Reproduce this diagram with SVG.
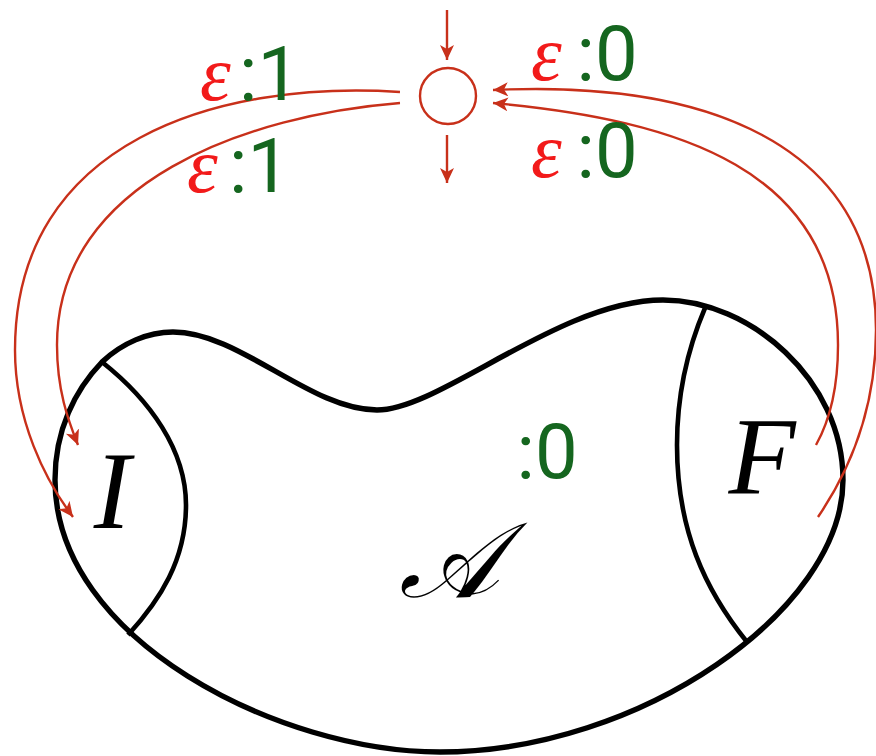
<svg xmlns="http://www.w3.org/2000/svg" width="876" height="756" viewBox="0 0 876 756">
<defs>
<marker id="ah" markerUnits="userSpaceOnUse" markerWidth="18" markerHeight="16" refX="15" refY="7" orient="auto">
<path d="M0,0 L15,7 L0,14 L4,7 Z" fill="#c8301a"/>
</marker>
<style>
.blk{fill:none;stroke:#000;stroke-width:5.4;stroke-linejoin:round}
.thin{fill:none;stroke:#000;stroke-width:4.6}
.edge{fill:none;stroke:#c8301a;stroke-width:2.4}
.eps{font-family:"Liberation Serif","DejaVu Serif",serif;font-style:italic;font-size:78px;fill:#f21a1a}
.num{font-family:Roboto,"Liberation Sans",sans-serif;font-weight:400;font-size:76px;fill:#15661f}
.math{font-family:"Liberation Serif","DejaVu Serif",serif;font-style:italic;fill:#000}
</style>
</defs>
<rect width="876" height="756" fill="#fff"/>
<g id="automaton">
<path class="blk" d="M102,362 C122,343 148,332 173,332 C240,332 310,410 377,410 C440,410 560,300 663,300 C750,300 843,380 843,480 C843,610 640,752 440,752 C280,752 55,640 55,480 C55,430 75,390 102,362 Z"/>
</g>
<g id="I">
<path class="thin" d="M102,362 C150,400 186,450 186,505 C186,560 160,600 128,635"/>
<text class="math" x="112" y="528" font-size="110" text-anchor="middle">I</text>
</g>
<g id="F">
<path class="thin" d="M705,308 C685,355 677,400 677,445 C677,530 705,590 747,642"/>
<text class="math" x="762" y="493" font-size="110" text-anchor="middle">F</text>
</g>
<g id="A">
<text class="math" x="449" y="597" font-size="106" text-anchor="middle">𝒜</text>
<text class="num" x="516.5" y="478">:0</text>
</g>
<g id="state">
<circle cx="448" cy="96" r="28" fill="none" stroke="#c8301a" stroke-width="2.4"/>
</g>
<g id="connectors">
<path class="edge" d="M447,10 L447,60" marker-end="url(#ah)"/>
<path class="edge" d="M447,135 L447,183" marker-end="url(#ah)"/>
<path class="edge" d="M400,92 C220,80 15,140 15,350 C15,420 45,480 73,517" marker-end="url(#ah)"/>
<path class="edge" d="M400,103 C250,115 57,180 57,345 C57,390 68,420 78,445" marker-end="url(#ah)"/>
<path class="edge" d="M818,517 C850,470 876,410 876,330 C876,140 700,80 493,90" marker-end="url(#ah)"/>
<path class="edge" d="M816,445 C830,420 838,385 838,345 C838,170 680,120 493,103" marker-end="url(#ah)"/>
</g>
<g id="labels">
<text x="200" y="100"><tspan class="eps">ε</tspan><tspan class="num" x="239">:1</tspan></text>
<text x="187" y="192"><tspan class="eps">ε</tspan><tspan class="num" x="229">:1</tspan></text>
<text x="531" y="80"><tspan class="eps">ε</tspan><tspan class="num" x="576.5">:0</tspan></text>
<text x="531" y="177"><tspan class="eps">ε</tspan><tspan class="num" x="576.5">:0</tspan></text>
</g>
</svg>
